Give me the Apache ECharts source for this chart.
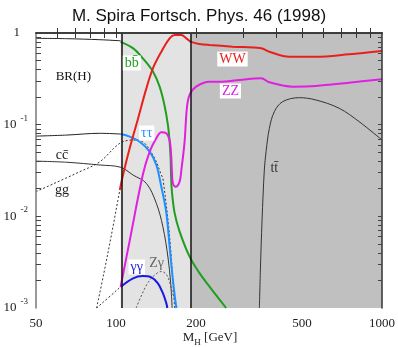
<!DOCTYPE html>
<html><head><meta charset="utf-8">
<script src="https://cdn.jsdelivr.net/npm/echarts@6/dist/echarts.min.js"></script>
<style>html,body{margin:0;padding:0;background:#fff}#c{width:398px;height:348px}</style>
</head><body><div id="c"></div>
<script>
// ---- axis / tick data ----
const xTickLabels = [50, 100, 200, 500, 1000];
const xMinorTicks = [60, 70, 80, 90, 100, 200, 300, 400, 500, 600, 700, 800, 900];
const yDecades = [-3, -2, -1, 0];
const yMinorTicks = [0.002,0.003,0.004,0.005,0.006,0.007,0.008,0.009,0.01,0.02,0.03,0.04,0.05,0.06,0.07,0.08,0.09,0.1,0.2,0.3,0.4,0.5,0.6,0.7,0.8,0.9];
const shadeEdges = [104, 191.5];

// ---- curves (mass in GeV, branching ratio) ----
const bbLeftM  = [50, 65.2, 86.9, 104];
const bbLeftBR = [0.875, 0.867, 0.845, 0.822];

const tauLeftM  = [50, 65.2, 86.9, 104];
const tauLeftBR = [0.075, 0.077, 0.0805, 0.079];

const bbM  = [104, 116, 126, 137.6, 145.8, 152, 156.7, 159, 160.4, 161, 162.1, 166, 173.4, 189, 206, 224.6, 259.4];
const bbBR = [0.80, 0.68, 0.53, 0.38, 0.26, 0.164, 0.099, 0.065, 0.043, 0.028, 0.019, 0.0109, 0.0068, 0.00363, 0.0024, 0.00171, 0.001];

const tauM  = [104, 112.5, 122.7, 133.8, 141.7, 148, 154.5, 159, 163.6, 168.5];
const tauBR = [0.079, 0.074, 0.065, 0.0507, 0.0363, 0.021, 0.0109, 0.00467, 0.00202, 0.001];

const ccM  = [50, 65.2, 86.9, 104, 115.9, 130, 141.7, 150, 156.7, 160.4, 162.5];
const ccBR = [0.040, 0.0389, 0.0363, 0.0343, 0.0282, 0.0229, 0.0139, 0.0077, 0.0036, 0.0019, 0.001];

const ggM  = [50, 73.1, 86.9, 103.3, 115.9, 126, 133.8, 141.7, 148, 150, 159, 166];
const ggBR = [0.0186, 0.0307, 0.0394, 0.0626, 0.068, 0.065, 0.053, 0.0394, 0.0282, 0.026, 0.006, 0.001];

const wwStarM  = [84.5, 90, 96, 103.3];
const wwStarBR = [0.001, 0.0024, 0.0062, 0.0194];

const aaStarM  = [84.5, 104];
const aaStarBR = [0.001, 0.0017];

const wwM  = [103.3, 106.2, 112.5, 121, 130, 137.6, 148, 159, 166, 176, 183.7, 191.5, 206, 224.6, 274.6, 351, 377, 448, 564, 752, 1000];
const wwBR = [0.0194, 0.0283, 0.0552, 0.117, 0.249, 0.412, 0.625, 0.875, 0.95, 0.95, 0.875, 0.80, 0.759, 0.74, 0.71, 0.68, 0.625, 0.551, 0.551, 0.586, 0.636];

const zzM  = [104, 112.5, 126, 133.8, 141.7, 148, 154.5, 159, 161.4, 162.1, 163.6, 167.5, 173.4, 176, 181, 184.6, 189, 200, 224.6, 245, 291, 351, 377, 461, 564, 752, 1000];
const zzBR = [0.0017, 0.0054, 0.0282, 0.0507, 0.071, 0.0826, 0.0805, 0.068, 0.043, 0.032, 0.0229, 0.021, 0.0239, 0.032, 0.065, 0.151, 0.211, 0.26, 0.294, 0.294, 0.307, 0.321, 0.29, 0.26, 0.264, 0.287, 0.313];

const aaM  = [104, 115.9, 126, 135.8, 143.7, 150, 154.5, 155.9];
const aaBR = [0.0017, 0.00211, 0.00223, 0.00216, 0.00186, 0.00145, 0.00113, 0.001];

const zaM  = [119, 125, 132, 140, 148, 155, 160, 165, 170];
const zaBR = [0.001, 0.0014, 0.0019, 0.0023, 0.0025, 0.0023, 0.0018, 0.0013, 0.001];

const ttM  = [345.9, 348.9, 354, 361, 366.5, 377, 393.7, 422.9, 488.4, 564, 690, 820, 1000];
const ttBR = [0.001, 0.0026, 0.0091, 0.032, 0.0507, 0.091, 0.1386, 0.178, 0.197, 0.186, 0.151, 0.108, 0.068];

// ---- text labels (anchored in data coordinates) ----
const labelTexts  = ['BR(H)', 'b' + 'b\u0304', '\u03c4\u03c4', 'c' + 'c\u0304', 'gg', 'WW', 'ZZ', '\u03b3\u03b3', 'Z\u03b3', 't' + 't\u0304'];
const labelM      = [69.1, 114.6, 130.4, 62.6, 62.6, 274, 269.2, 119.6, 142.1, 393.8];
const labelBR     = [0.331, 0.471, 0.081, 0.0467, 0.0194, 0.52, 0.233, 0.0028, 0.0031, 0.0337];
const labelColors = ['#111', '#1f9e1f', '#1e90ff', '#222', '#222', '#e8201c', '#e020e0', '#1a1ae6', '#666', '#333'];
const labelBoxed  = [false, true, true, false, false, true, true, true, false, false];

const L = Math.log10;
const pts = (m, b) => m.map((v, i) => [L(v), L(b[i])]);

const chart = echarts.init(document.getElementById('c'), null, {renderer: 'canvas'});

function lineSeries(name, m, b, color, width, dashed, z) {
  return {
    name, type: 'line', data: pts(m, b), smooth: 0.35, symbol: 'none', z: z || 3,
    lineStyle: {color, width, type: dashed ? [2, 2] : 'solid'},
    clip: true, silent: true
  };
}

const serif = 'Liberation Serif';
const xMin = L(50), xMax = L(1000);

const axisLineStyle = {color: '#333', width: 1.5};

const option = {
  animation: false,
  backgroundColor: '#fff',
  title: {
    text: 'M. Spira Fortsch. Phys. 46 (1998)', left: 'center', top: 3,
    textStyle: {fontFamily: 'Liberation Sans', fontSize: 17, fontWeight: 'normal', color: '#111'}
  },
  grid: {left: 36, right: 15, top: 33, bottom: 40, containLabel: false},
  xAxis: [{
    type: 'value', min: xMin, max: xMax, position: 'bottom', z: 10,
    axisLine: {show: true, lineStyle: axisLineStyle},
    splitLine: {show: false},
    axisTick: {show: true, inside: true, length: 5, customValues: xMinorTicks.map(L), lineStyle: {color: '#333'}},
    axisLabel: {
      customValues: xTickLabels.map(L), margin: 9,
      formatter: v => String(Math.round(Math.pow(10, v))),
      fontFamily: serif, fontSize: 13, color: '#222'
    }
  }, {
    type: 'value', min: xMin, max: xMax, position: 'top', z: 10,
    axisLine: {show: true, lineStyle: axisLineStyle},
    splitLine: {show: false},
    axisTick: {show: true, inside: true, length: 5, customValues: xMinorTicks.map(L), lineStyle: {color: '#333'}},
    axisLabel: {show: false}
  }],
  yAxis: [{
    type: 'value', min: -3, max: 0, position: 'left', z: 10,
    axisLine: {show: true, lineStyle: {color: '#777', width: 1.5}},
    splitLine: {show: false},
    axisTick: {show: true, inside: true, length: 5, customValues: yMinorTicks.map(L), lineStyle: {color: '#444'}},
    axisLabel: {
      customValues: yDecades, margin: 8,
      formatter: v => Math.round(v) === 0 ? '{one|1}' : '{b|10}{sup|' + Math.round(v) + '}',
      rich: {
        one: {fontFamily: serif, fontSize: 13, color: '#222', padding: [0, 8, 0, 0], lineHeight: 22},
        b: {fontFamily: serif, fontSize: 13, color: '#222', lineHeight: 22},
        sup: {fontFamily: serif, fontSize: 9, color: '#222', verticalAlign: 'top', lineHeight: 10, padding: [0, 0, 0, 4]}
      }
    }
  }, {
    type: 'value', min: -3, max: 0, position: 'right', z: 10,
    axisLine: {show: true, lineStyle: axisLineStyle},
    splitLine: {show: false},
    axisTick: {show: true, inside: true, length: 4, customValues: yMinorTicks.map(L), lineStyle: {color: '#444'}},
    axisLabel: {show: false}
  }],
  series: [
    {
      name: 'bg', type: 'line', data: [], z: 1, silent: true,
      markArea: {
        silent: true,
        data: [
          [{xAxis: L(shadeEdges[0]), yAxis: -3, itemStyle: {color: '#e3e3e3'}}, {xAxis: L(shadeEdges[1]), yAxis: 0}],
          [{xAxis: L(shadeEdges[1]), yAxis: -3, itemStyle: {color: '#c0c0c0'}}, {xAxis: xMax, yAxis: 0}]
        ]
      },
      markLine: {
        silent: true, symbol: 'none', label: {show: false},
        lineStyle: {color: '#111', width: 1.5, type: 'solid'},
        data: [{xAxis: L(shadeEdges[0])}, {xAxis: L(shadeEdges[1])}]
      }
    },
    lineSeries('bbLeft', bbLeftM, bbLeftBR, '#222', 1),
    lineSeries('tauLeft', tauLeftM, tauLeftBR, '#222', 1),
    lineSeries('cc', ccM, ccBR, '#333', 1),
    lineSeries('gg', ggM, ggBR, '#333', 1, true),
    lineSeries('wwStar', wwStarM, wwStarBR, '#333', 1, true),
    lineSeries('aaStar', aaStarM, aaStarBR, '#333', 1, true),
    lineSeries('za', zaM, zaBR, '#555', 1, true),
    lineSeries('tt', ttM, ttBR, '#333', 1),
    lineSeries('bb', bbM, bbBR, '#1f9e1f', 2),
    lineSeries('tau', tauM, tauBR, '#1e90ff', 2),
    lineSeries('aa', aaM, aaBR, '#1a1ae6', 2),
    lineSeries('zz', zzM, zzBR, '#e020e0', 2),
    lineSeries('ww', wwM, wwBR, '#e8201c', 2)
  ]
};
chart.setOption(option);

// place text labels at their data coordinates
const graphics = labelTexts.map((t, i) => {
  const p = chart.convertToPixel({gridIndex: 0}, [L(labelM[i]), L(labelBR[i])]);
  return {
    type: 'text', x: p[0], y: p[1], z: 20,
    style: {
      text: t, fill: labelColors[i], fontFamily: serif,
      fontSize: i === 0 ? 13 : 14, align: 'center', verticalAlign: 'middle',
      backgroundColor: labelBoxed[i] ? '#fff' : null, padding: labelBoxed[i] ? [1, 2, 0, 2] : 0
    }
  };
});
graphics.push({
  type: 'text', x: 210, y: 338, z: 20,
  style: {
    text: '{m|M}{s|H} {m|[GeV]}', align: 'center', verticalAlign: 'middle',
    rich: {
      m: {fontFamily: serif, fontSize: 13, fill: '#222', lineHeight: 18},
      s: {fontFamily: serif, fontSize: 9, fill: '#222', verticalAlign: 'bottom', lineHeight: 10}
    }
  }
});
chart.setOption({graphic: graphics});
</script>
</body></html>
